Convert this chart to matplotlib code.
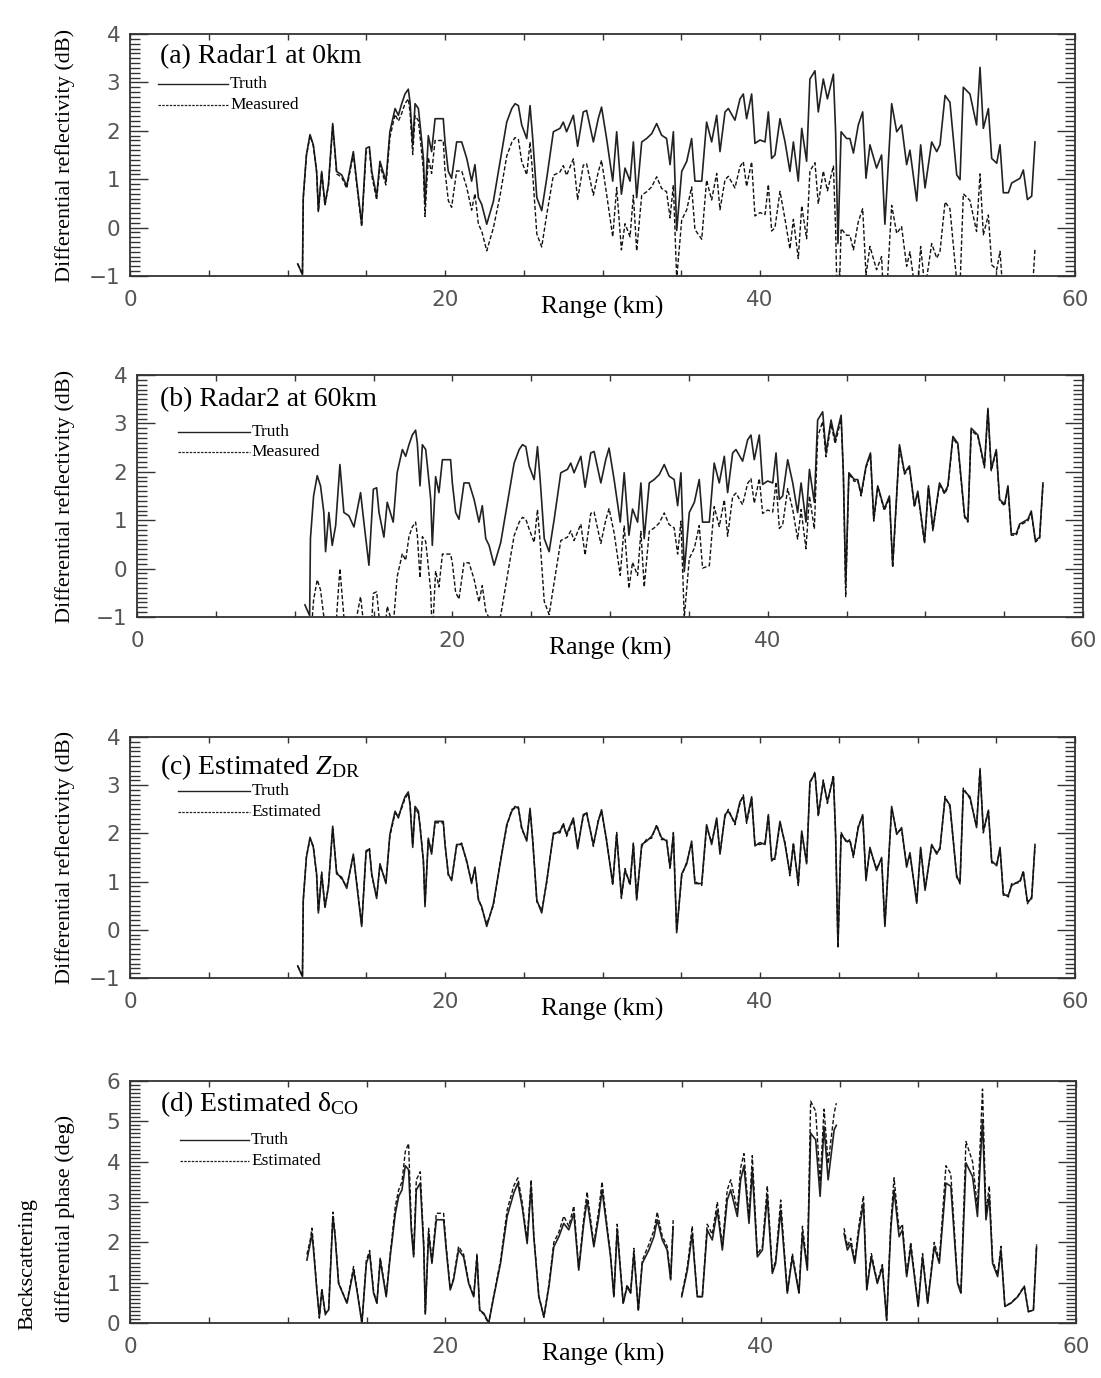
import numpy as np
import matplotlib
matplotlib.use('Agg')
import matplotlib.pyplot as plt
from matplotlib.ticker import MultipleLocator

plt.rcParams['font.family'] = ['Liberation Serif', 'DejaVu Serif']
plt.rcParams['mathtext.fontset'] = 'custom'
plt.rcParams['mathtext.rm'] = 'Liberation Serif'
plt.rcParams['mathtext.it'] = 'Liberation Serif:italic'

## range gates (km) used for the Z_DR profiles
rng_zdr = [10.65, 10.95, 11.00, 11.20, 11.43, 11.64, 11.85, 11.96, 12.17, 12.38,
           12.60, 12.87, 13.12, 13.44, 13.76, 14.18, 14.39, 14.71, 14.99, 15.20,
           15.35, 15.66, 15.87, 16.25, 16.50, 16.83, 17.04, 17.25, 17.46, 17.67,
           17.78, 17.95, 18.10, 18.31, 18.42, 18.63, 18.73, 18.94, 19.15, 19.37,
           19.89, 20.00, 20.21, 20.42, 20.74, 21.06, 21.38, 21.69, 21.90, 22.12,
           22.33, 22.65, 23.07, 23.50, 23.92, 24.24, 24.45, 24.66, 24.87, 25.19,
           25.40, 25.57, 25.83, 26.14, 26.46, 26.88, 27.30, 27.51, 27.72, 28.15,
           28.42, 28.78, 28.99, 29.42, 29.73, 29.94, 30.26, 30.65, 30.90, 31.20,
           31.43, 31.75, 31.96, 32.17, 32.49, 32.80, 33.12, 33.44, 33.75, 34.07,
           34.29, 34.50, 34.71, 35.03, 35.35, 35.66, 35.87, 36.30, 36.61, 36.93,
           37.25, 37.46, 37.78, 37.99, 38.41, 38.73, 38.94, 39.15, 39.47, 39.68,
           40.00, 40.32, 40.53, 40.74, 40.95, 41.27, 41.59, 41.90, 42.12, 42.43,
           42.65, 42.96, 43.17, 43.49, 43.70, 44.02, 44.28, 44.66, 44.80, 44.95,
           45.15, 45.50, 45.71, 45.93, 46.24, 46.52, 46.73, 46.98, 47.40, 47.72,
           47.93, 48.36, 48.68, 48.99, 49.31, 49.52, 49.95, 50.20, 50.48, 50.90,
           51.22, 51.43, 51.75, 52.06, 52.49, 52.70, 52.91, 53.33, 53.75, 53.97,
           54.18, 54.50, 54.71, 55.03, 55.24, 55.45, 55.77, 55.98, 56.51, 56.72,
           56.98, 57.25, 57.46]

zdr_truth = [-0.75, -0.97, 0.62, 1.50, 1.92, 1.71, 1.16, 0.35, 1.16, 0.48,
             0.89, 2.15, 1.16, 1.09, 0.86, 1.57, 0.96, 0.07, 1.64, 1.67,
             1.16, 0.65, 1.37, 0.96, 1.98, 2.46, 2.32, 2.56, 2.76, 2.86,
             2.59, 1.71, 2.56, 2.46, 2.12, 1.43, 0.48, 1.90, 1.57, 2.25,
             2.25, 1.77, 1.16, 1.02, 1.77, 1.77, 1.43, 0.96, 1.30, 0.62,
             0.48, 0.07, 0.54, 1.37, 2.18, 2.46, 2.56, 2.52, 2.12, 1.84,
             2.52, 1.84, 0.62, 0.35, 1.02, 1.98, 2.05, 2.18, 1.98, 2.32,
             1.68, 2.39, 2.42, 1.77, 2.25, 2.49, 1.84, 0.96, 1.98, 0.69,
             1.23, 0.96, 1.77, 0.62, 1.77, 1.84, 1.94, 2.15, 1.91, 1.84,
             1.30, 1.98, -0.06, 1.16, 1.37, 1.84, 0.96, 0.96, 2.18, 1.77,
             2.32, 1.57, 2.39, 2.46, 2.22, 2.66, 2.76, 2.25, 2.76, 1.74,
             1.81, 1.77, 2.39, 1.43, 1.50, 2.25, 1.77, 1.16, 1.77, 0.96,
             2.05, 1.37, 3.07, 3.24, 2.39, 3.07, 2.66, 3.17, 1.98, -0.33,
             1.98, 1.84, 1.84, 1.54, 2.12, 2.39, 1.02, 1.71, 1.23, 1.50,
             0.07, 2.56, 1.98, 2.12, 1.30, 1.60, 0.55, 1.71, 0.82, 1.77,
             1.57, 1.71, 2.73, 2.59, 1.09, 0.99, 2.90, 2.76, 2.12, 3.31,
             2.05, 2.46, 1.43, 1.33, 1.71, 0.72, 0.72, 0.92, 1.02, 1.19,
             0.58, 0.65, 1.77]

# measured by radar 1 (at 0 km)
zdr_meas_r1 = [-0.75, -0.97, 0.60, 1.48, 1.90, 1.69, 1.14, 0.33, 1.14, 0.46,
               0.87, 2.10, 1.11, 1.04, 0.81, 1.52, 0.91, 0.02, 1.56, 1.59,
               1.08, 0.57, 1.29, 0.88, 1.86, 2.34, 2.20, 2.36, 2.56, 2.66,
               2.39, 1.51, 2.31, 2.21, 1.87, 1.18, 0.23, 1.45, 1.12, 1.80,
               1.80, 1.17, 0.56, 0.42, 1.17, 1.17, 0.83, 0.36, 0.70, 0.07,
               -0.07, -0.48, -0.01, 0.67, 1.48, 1.76, 1.86, 1.82, 1.37, 1.09,
               1.77, 1.09, -0.13, -0.40, 0.27, 1.08, 1.15, 1.28, 1.08, 1.42,
               0.58, 1.29, 1.32, 0.67, 1.15, 1.39, 0.69, -0.19, 0.83, -0.46,
               0.08, -0.19, 0.67, -0.48, 0.67, 0.74, 0.84, 1.05, 0.81, 0.74,
               0.20, 0.88, -1.06, 0.16, 0.37, 0.84, -0.04, -0.24, 0.98, 0.57,
               1.12, 0.37, 0.99, 1.06, 0.82, 1.26, 1.36, 0.85, 1.36, 0.24,
               0.31, 0.27, 0.89, -0.07, 0.00, 0.75, 0.17, -0.44, 0.17, -0.64,
               0.45, -0.23, 1.17, 1.34, 0.49, 1.17, 0.76, 1.27, -0.02, -2.33,
               -0.02, -0.16, -0.16, -0.46, 0.12, 0.39, -0.98, -0.39, -0.87, -0.60,
               -2.03, 0.46, -0.12, 0.02, -0.80, -0.50, -1.55, -0.39, -1.28, -0.33,
               -0.63, -0.49, 0.53, 0.39, -1.11, -1.21, 0.70, 0.56, -0.08, 1.11,
               -0.15, 0.26, -0.77, -0.87, -0.49, -1.48, -1.48, -1.28, -1.18, -1.01,
               -1.62, -1.55, -0.43]

# measured by radar 2 (at 60 km)
zdr_meas_r2 = [-2.90, -3.12, -1.53, -0.65, -0.23, -0.44, -0.99, -1.80, -0.99, -1.67,
               -1.26, 0.00, -0.99, -1.06, -1.29, -0.58, -1.19, -2.08, -0.51, -0.48,
               -0.99, -1.50, -0.78, -1.19, -0.17, 0.31, 0.17, 0.66, 0.86, 0.96,
               0.69, -0.19, 0.66, 0.56, 0.22, -0.47, -1.42, -0.05, -0.38, 0.30,
               0.30, 0.12, -0.49, -0.63, 0.12, 0.12, -0.22, -0.69, -0.35, -0.88,
               -1.02, -1.43, -0.96, -0.13, 0.68, 0.96, 1.06, 1.02, 0.82, 0.54,
               1.22, 0.54, -0.68, -0.95, -0.28, 0.58, 0.65, 0.78, 0.58, 0.92,
               0.28, 1.14, 1.17, 0.52, 1.00, 1.24, 0.74, -0.14, 0.88, -0.41,
               0.13, -0.14, 0.77, -0.38, 0.77, 0.84, 0.94, 1.15, 0.91, 0.84,
               0.30, 0.98, -1.01, 0.21, 0.42, 0.89, 0.01, 0.06, 1.28, 0.87,
               1.42, 0.67, 1.49, 1.56, 1.32, 1.76, 1.86, 1.35, 1.86, 1.14,
               1.21, 1.17, 1.79, 0.83, 0.90, 1.65, 1.22, 0.61, 1.22, 0.41,
               1.50, 0.82, 2.72, 3.04, 2.31, 2.99, 2.58, 3.09, 1.96, -0.58,
               1.96, 1.80, 1.83, 1.50, 2.09, 2.35, 0.98, 1.69, 1.20, 1.46,
               0.02, 2.52, 1.95, 2.09, 1.27, 1.56, 0.52, 1.68, 0.78, 1.74,
               1.54, 1.68, 2.70, 2.55, 1.06, 0.96, 2.86, 2.73, 2.08, 3.27,
               2.02, 2.43, 1.40, 1.30, 1.68, 0.69, 0.69, 0.89, 0.99, 1.16,
               0.55, 0.62, 1.74]

# estimated Z_DR after correction
zdr_est = [-0.75, -0.97, 0.60, 1.52, 1.88, 1.74, 1.12, 0.38, 1.20, 0.44,
           0.92, 2.10, 1.20, 1.05, 0.90, 1.53, 1.00, 0.10, 1.60, 1.70,
           1.12, 0.68, 1.33, 1.00, 1.94, 2.42, 2.36, 2.52, 2.72, 2.83,
           2.62, 1.76, 2.52, 2.42, 2.16, 1.40, 0.55, 1.86, 1.62, 2.22,
           2.22, 1.80, 1.12, 1.06, 1.73, 1.80, 1.40, 1.00, 1.27, 0.66,
           0.45, 0.12, 0.50, 1.40, 2.14, 2.50, 2.52, 2.55, 2.08, 1.88,
           2.48, 1.88, 0.58, 0.40, 0.98, 2.01, 2.01, 2.22, 1.94, 2.28,
           1.72, 2.35, 2.45, 1.73, 2.28, 2.45, 1.88, 0.92, 2.02, 0.65,
           1.27, 0.92, 1.80, 0.66, 1.73, 1.88, 1.90, 2.18, 1.87, 1.88,
           1.26, 2.02, -0.02, 1.12, 1.41, 1.80, 1.00, 0.92, 2.14, 1.81,
           2.28, 1.61, 2.35, 2.50, 2.18, 2.62, 2.80, 2.21, 2.72, 1.78,
           1.77, 1.81, 2.35, 1.47, 1.46, 2.21, 1.81, 1.12, 1.81, 0.92,
           2.01, 1.41, 3.03, 3.28, 2.35, 3.11, 2.62, 3.21, 1.94, -0.38,
           2.02, 1.80, 1.88, 1.50, 2.16, 2.35, 1.06, 1.67, 1.27, 1.46,
           0.11, 2.52, 2.02, 2.08, 1.34, 1.56, 0.59, 1.67, 0.86, 1.73,
           1.61, 1.67, 2.77, 2.55, 1.13, 0.95, 2.94, 2.72, 2.16, 3.36,
           2.01, 2.50, 1.39, 1.37, 1.67, 0.76, 0.68, 0.96, 0.98, 1.23,
           0.54, 0.69, 1.73]

## backscattering differential phase (deg)
rng_dco = [11.22, 11.43, 11.54, 11.64, 11.85, 12.01, 12.17, 12.38, 12.60, 12.87,
           13.01, 13.23, 13.76, 14.18, 14.39, 14.71, 14.99, 15.20, 15.45, 15.66,
           15.87, 16.25, 16.50, 16.83, 17.04, 17.25, 17.46, 17.67, 17.84, 17.99,
           18.16, 18.41, 18.63, 18.73, 18.94, 19.15, 19.43, 19.89, 20.06, 20.31,
           20.52, 20.84, 21.16, 21.48, 21.80, 22.01, 22.18, 22.44, 22.75, 23.07,
           23.50, 23.92, 24.34, 24.60, 24.87, 25.19, 25.44, 25.61, 25.93, 26.25,
           26.57, 26.88, 27.20, 27.51, 27.83, 28.15, 28.46, 28.78, 28.99, 29.42,
           29.73, 29.94, 30.26, 30.48, 30.69, 30.90, 31.07, 31.28, 31.53, 31.75,
           31.96, 32.24, 32.49, 32.91, 33.23, 33.44, 33.76, 34.07, 34.29, 34.45,
           34.60, 34.99, 35.35, 35.66, 35.77, 35.98, 36.30, 36.61, 36.93, 37.25,
           37.57, 37.88, 38.10, 38.52, 38.73, 38.94, 39.26, 39.47, 39.79, 40.11,
           40.42, 40.74, 40.95, 41.27, 41.69, 42.01, 42.43, 42.65, 42.96, 43.17,
           43.49, 43.77, 44.02, 44.28, 44.66, 44.80, 45.00, 45.29, 45.50, 45.71,
           45.97, 46.24, 46.52, 46.73, 47.02, 47.40, 47.72, 47.99, 48.25, 48.46,
           48.78, 48.99, 49.26, 49.52, 49.99, 50.27, 50.59, 51.01, 51.33, 51.75,
           52.06, 52.49, 52.70, 53.02, 53.44, 53.75, 54.07, 54.29, 54.50, 54.71,
           55.03, 55.24, 55.49, 55.87, 56.30, 56.72, 56.98, 57.30, 57.50]

dco_truth = [1.56, 1.97, 2.22, 1.81, 0.82, 0.16, 0.82, 0.24, 0.32, 2.64,
             2.14, 0.98, 0.49, 1.31, 0.82, 0.00, 1.48, 1.73, 0.74, 0.49,
             1.56, 0.65, 1.64, 2.72, 3.14, 3.30, 3.90, 3.80, 2.31, 1.64,
             3.30, 3.47, 1.89, 0.24, 2.22, 1.48, 2.56, 2.56, 1.81, 0.82,
             1.07, 1.81, 1.64, 0.98, 0.65, 1.64, 0.32, 0.24, 0.00, 0.65,
             1.48, 2.64, 3.22, 3.47, 2.89, 1.97, 3.39, 2.14, 0.65, 0.16,
             0.90, 1.89, 2.14, 2.47, 2.31, 2.72, 1.31, 2.47, 3.05, 1.89,
             2.64, 3.30, 2.31, 1.64, 0.65, 2.31, 1.48, 0.49, 0.90, 0.74,
             1.73, 0.32, 1.48, 1.81, 2.14, 2.56, 2.06, 1.81, 1.07, 2.39,
             np.nan, 0.65, 1.31, 2.22, 1.64, 0.65, 0.65, 2.31, 2.06, 2.80,
             1.81, 3.05, 3.30, 2.64, 3.55, 3.90, 2.47, 3.80, 1.64, 1.81,
             3.14, 1.23, 1.48, 2.80, 0.74, 1.64, 0.74, 2.22, 1.31, 4.71,
             4.54, 3.14, 4.87, 3.55, 4.79, 4.90, np.nan, 2.22, 1.81, 1.97,
             1.48, 2.31, 2.97, 0.82, 1.64, 0.98, 1.39, 0.08, 2.31, 3.30,
             2.14, 2.31, 1.15, 1.89, 0.41, 1.64, 0.49, 1.89, 1.48, 3.47,
             3.39, 0.98, 0.74, 3.97, 3.63, 2.64, 5.04, 2.56, 3.14, 1.48,
             1.15, 1.81, 0.41, 0.49, 0.65, 0.90, 0.28, 0.32, 1.89]

dco_est = [1.70, 2.05, 2.35, 1.90, 0.85, 0.12, 0.85, 0.20, 0.35, 2.75,
           2.20, 1.00, 0.50, 1.40, 0.85, -0.02, 1.55, 1.80, 0.78, 0.50,
           1.62, 0.68, 1.70, 2.90, 3.30, 3.50, 4.25, 4.45, 2.45, 1.70,
           3.55, 3.75, 1.95, 0.22, 2.35, 1.52, 2.72, 2.72, 1.88, 0.85,
           1.10, 1.90, 1.70, 1.02, 0.66, 1.72, 0.30, 0.22, -0.02, 0.68,
           1.55, 2.80, 3.40, 3.60, 3.00, 2.05, 3.55, 2.20, 0.68, 0.14,
           0.95, 2.00, 2.25, 2.65, 2.40, 2.90, 1.35, 2.60, 3.25, 1.95,
           2.80, 3.50, 2.40, 1.70, 0.66, 2.45, 1.52, 0.48, 0.95, 0.75,
           1.85, 0.30, 1.55, 1.95, 2.30, 2.75, 2.15, 1.90, 1.10, 2.55,
           np.nan, 0.68, 1.40, 2.40, 1.70, 0.66, 0.66, 2.45, 2.20, 3.00,
           1.90, 3.30, 3.55, 2.80, 3.85, 4.20, 2.60, 4.15, 1.70, 1.90,
           3.40, 1.28, 1.55, 3.05, 0.76, 1.72, 0.76, 2.40, 1.38, 5.50,
           5.25, 3.50, 5.30, 3.95, 5.20, 5.45, np.nan, 2.35, 1.90, 2.10,
           1.55, 2.45, 3.15, 0.85, 1.72, 1.02, 1.45, 0.06, 2.45, 3.60,
           2.30, 2.45, 1.20, 2.00, 0.42, 1.72, 0.50, 2.00, 1.55, 3.90,
           3.70, 1.02, 0.76, 4.50, 4.00, 2.85, 5.80, 2.75, 3.40, 1.55,
           1.20, 1.90, 0.42, 0.50, 0.66, 0.92, 0.28, 0.33, 1.95]

## figure layout (pixel measures of the original page)
W, H = 1101, 1378
fig = plt.figure(figsize=(W / 100, H / 100), dpi=100)

rects = [(130, 34, 945, 242), (137, 375, 946, 242), (130, 737, 945, 241), (130, 1081, 946, 242)]
titles = ['(a) Radar1 at 0km', '(b) Radar2 at 60km',
          r'(c) Estimated $Z_{\rm DR}$', r'(d) Estimated δ$_{\rm CO}$']
second_labels = ['Measured', 'Measured', 'Estimated', 'Estimated']
title_pos = [(0.032, 0.905), (0.024, 0.897), (0.032, 0.875), (0.032, 0.905)]
leg_y = [(0.793, 0.707), (0.764, 0.682), (0.775, 0.690), (0.756, 0.669)]
leg_x = [(0.030, 0.104), (0.043, 0.119), (0.051, 0.127), (0.053, 0.126)]
xs = [rng_zdr, rng_zdr, rng_zdr, rng_dco]
truths = [zdr_truth, zdr_truth, zdr_truth, dco_truth]
seconds = [zdr_meas_r1, zdr_meas_r2, zdr_est, dco_est]
ylims = [(-1, 4), (-1, 4), (-1, 4), (0, 6)]

ink = '#222222'
tick_font = dict(family='DejaVu Sans', size=15.5, color='#555555')

for i in range(4):
    px, py, pw, ph = rects[i]
    ax = fig.add_axes([px / W, 1 - (py + ph) / H, pw / W, ph / H])
    ax.plot(xs[i], truths[i], color=ink, lw=1.2)
    ax.plot(xs[i], seconds[i], color='#111111', lw=1.0, linestyle=(0, (3, 1.6)))
    ax.set_xlim(0, 60)
    ax.set_ylim(*ylims[i])

    # IDL-like axes: inward ticks on all sides, dense minor y ticks
    ax.xaxis.set_major_locator(MultipleLocator(20))
    ax.xaxis.set_minor_locator(MultipleLocator(5))
    ax.yaxis.set_major_locator(MultipleLocator(1))
    ax.yaxis.set_minor_locator(MultipleLocator(0.1))
    ax.tick_params(which='both', direction='in', top=True, right=True, color='#333333', width=1.0)
    ax.tick_params(axis='x', which='both', length=4, pad=10)
    ax.tick_params(axis='y', which='major', length=13, pad=7)
    ax.tick_params(axis='y', which='minor', length=7)
    for lab in ax.get_xticklabels() + ax.get_yticklabels():
        lab.set_fontfamily(tick_font['family'])
        lab.set_fontsize(tick_font['size'])
        lab.set_color(tick_font['color'])
    for sp in ax.spines.values():
        sp.set_linewidth(1.3)
        sp.set_color('#333333')

    # panel title and small legend inside the axes
    ax.text(title_pos[i][0], title_pos[i][1], titles[i], transform=ax.transAxes,
            fontsize=20, va='center', ha='left')
    ax.plot(leg_x[i], [leg_y[i][0]] * 2, transform=ax.transAxes, color=ink, lw=1.0, clip_on=False)
    ax.plot(leg_x[i], [leg_y[i][1]] * 2, transform=ax.transAxes, color=ink, lw=0.9,
            linestyle=(0, (2, 1)), clip_on=False)
    ax.text(leg_x[i][1] + 0.002, leg_y[i][0], 'Truth', transform=ax.transAxes,
            fontsize=12.5, va='center', ha='left')
    ax.text(leg_x[i][1] + 0.002, leg_y[i][1], second_labels[i], transform=ax.transAxes,
            fontsize=12.5, va='center', ha='left')

    ax.text(0.5, -31 / ph, 'Range (km)', transform=ax.transAxes, fontsize=18.5,
            ha='center', va='center')
    yc = 1 - (py + ph / 2) / H
    if i < 3:
        fig.text(65 / W, yc, 'Differential reflectivity (dB)', rotation=90,
                 fontsize=16, ha='center', va='center')
    else:
        fig.text(28 / W, 1 - 1330 / H, 'Backscattering', rotation=90,
                 fontsize=16, ha='center', va='bottom')
        fig.text(65 / W, 1 - 1322 / H, 'differential phase (deg)', rotation=90,
                 fontsize=16, ha='center', va='bottom')

fig.savefig('out.png', dpi=100, facecolor='white')
